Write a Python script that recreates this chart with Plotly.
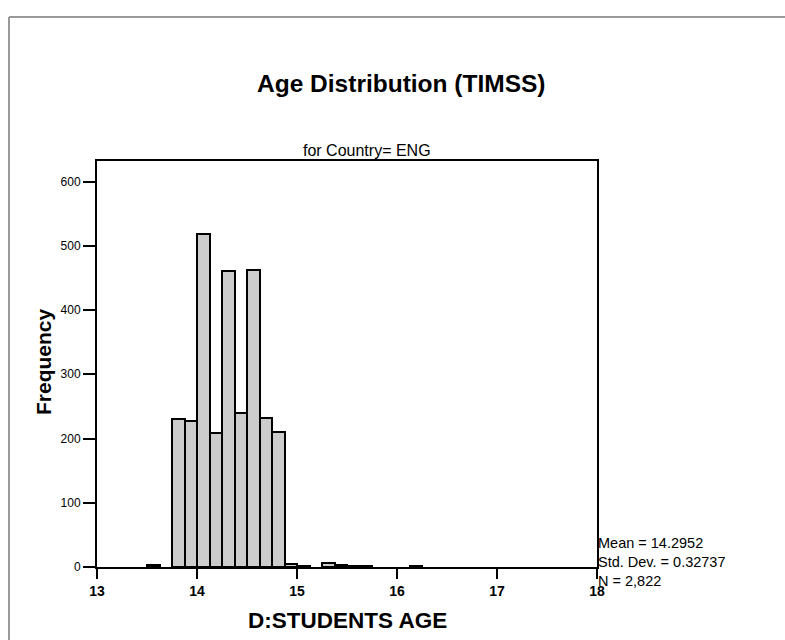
import plotly.graph_objects as go

# Histogram data: bin left edges (years) and counts
bin_left = [13.5, 13.75, 13.875, 14.0, 14.125, 14.25, 14.375, 14.5, 14.625,
            14.75, 14.875, 15.0, 15.25, 15.375, 15.5, 15.625, 16.125]
counts = [3, 230, 227, 518, 209, 461, 240, 463, 232, 210, 5, 2, 6, 3, 2, 1, 1]
bin_width = 0.125

x_ticks = [13, 14, 15, 16, 17, 18]
y_ticks = [0, 100, 200, 300, 400, 500, 600]

title_text = "Age Distribution (TIMSS)"
subtitle_text = "for Country= ENG"
x_title = "D:STUDENTS AGE"
y_title = "Frequency"
stats_lines = ["Mean = 14.2952", "Std. Dev. = 0.32737", "N = 2,822"]

FONT = "Liberation Sans, Arial, Helvetica, sans-serif"

W, H = 785, 640
L, R, T, B = 97, 188, 161, 73
PW, PH = W - L - R, H - T - B


def px(xp):
    return (xp - L) / PW


def py(yp):
    return (H - B - yp) / PH


centers = [b + bin_width / 2 for b in bin_left]

fig = go.Figure()
fig.add_trace(go.Bar(
    x=centers, y=counts, width=bin_width,
    marker=dict(color="#cccccc", line=dict(color="black", width=2)),
    showlegend=False, hoverinfo="skip",
))

fig.update_layout(
    width=W, height=H,
    margin=dict(l=L, r=R, t=T, b=B, autoexpand=False),
    paper_bgcolor="white", plot_bgcolor="white",
    font=dict(family=FONT, color="black"),
    bargap=0,
    xaxis=dict(
        range=[13, 18], tickvals=x_ticks, ticktext=[str(v) for v in x_ticks],
        ticks="outside", ticklen=10, tickwidth=2, tickcolor="black",
        showline=True, linewidth=2, linecolor="black", mirror=True,
        showgrid=False, zeroline=False,
        tickfont=dict(size=14, family=FONT, weight="bold"),
    ),
    yaxis=dict(
        range=[0, 632], tickvals=y_ticks, ticktext=[str(v) for v in y_ticks],
        ticks="outside", ticklen=12, tickwidth=2, tickcolor="black",
        showline=True, linewidth=2, linecolor="black", mirror=True,
        showgrid=False, zeroline=False,
        tickfont=dict(size=12, family=FONT),
    ),
)

annotations = [
    dict(text=f"<b>{title_text}</b>", x=px(401), y=py(84), xref="paper", yref="paper",
         xanchor="center", yanchor="middle", showarrow=False,
         font=dict(size=24.5, family=FONT)),
    dict(text=subtitle_text, x=px(367), y=py(151), xref="paper", yref="paper",
         xanchor="center", yanchor="middle", showarrow=False,
         font=dict(size=16, family=FONT)),
    dict(text=f"<b>{x_title}</b>", x=px(347), y=py(620), xref="paper", yref="paper",
         xanchor="center", yanchor="middle", showarrow=False,
         font=dict(size=22.5, family=FONT)),
    dict(text=f"<b>{y_title}</b>", x=px(43), y=py(362), xref="paper", yref="paper",
         xanchor="center", yanchor="middle", showarrow=False, textangle=-90,
         font=dict(size=21, family=FONT)),
]
for i, line in enumerate(stats_lines):
    annotations.append(dict(
        text=line, x=px(596), y=py(543 + 19 * i), xref="paper", yref="paper",
        xanchor="left", yanchor="middle", showarrow=False,
        font=dict(size=14.5, family=FONT)))
fig.update_layout(annotations=annotations)

# outer gray frame (top and left edges visible)
fig.add_shape(type="line", xref="paper", yref="paper",
              x0=px(9), x1=px(800), y0=py(17), y1=py(17),
              line=dict(color="#999999", width=2), layer="below")
fig.add_shape(type="line", xref="paper", yref="paper",
              x0=px(9), x1=px(9), y0=py(17), y1=py(700),
              line=dict(color="#999999", width=2), layer="below")

fig.write_html("out.html")
